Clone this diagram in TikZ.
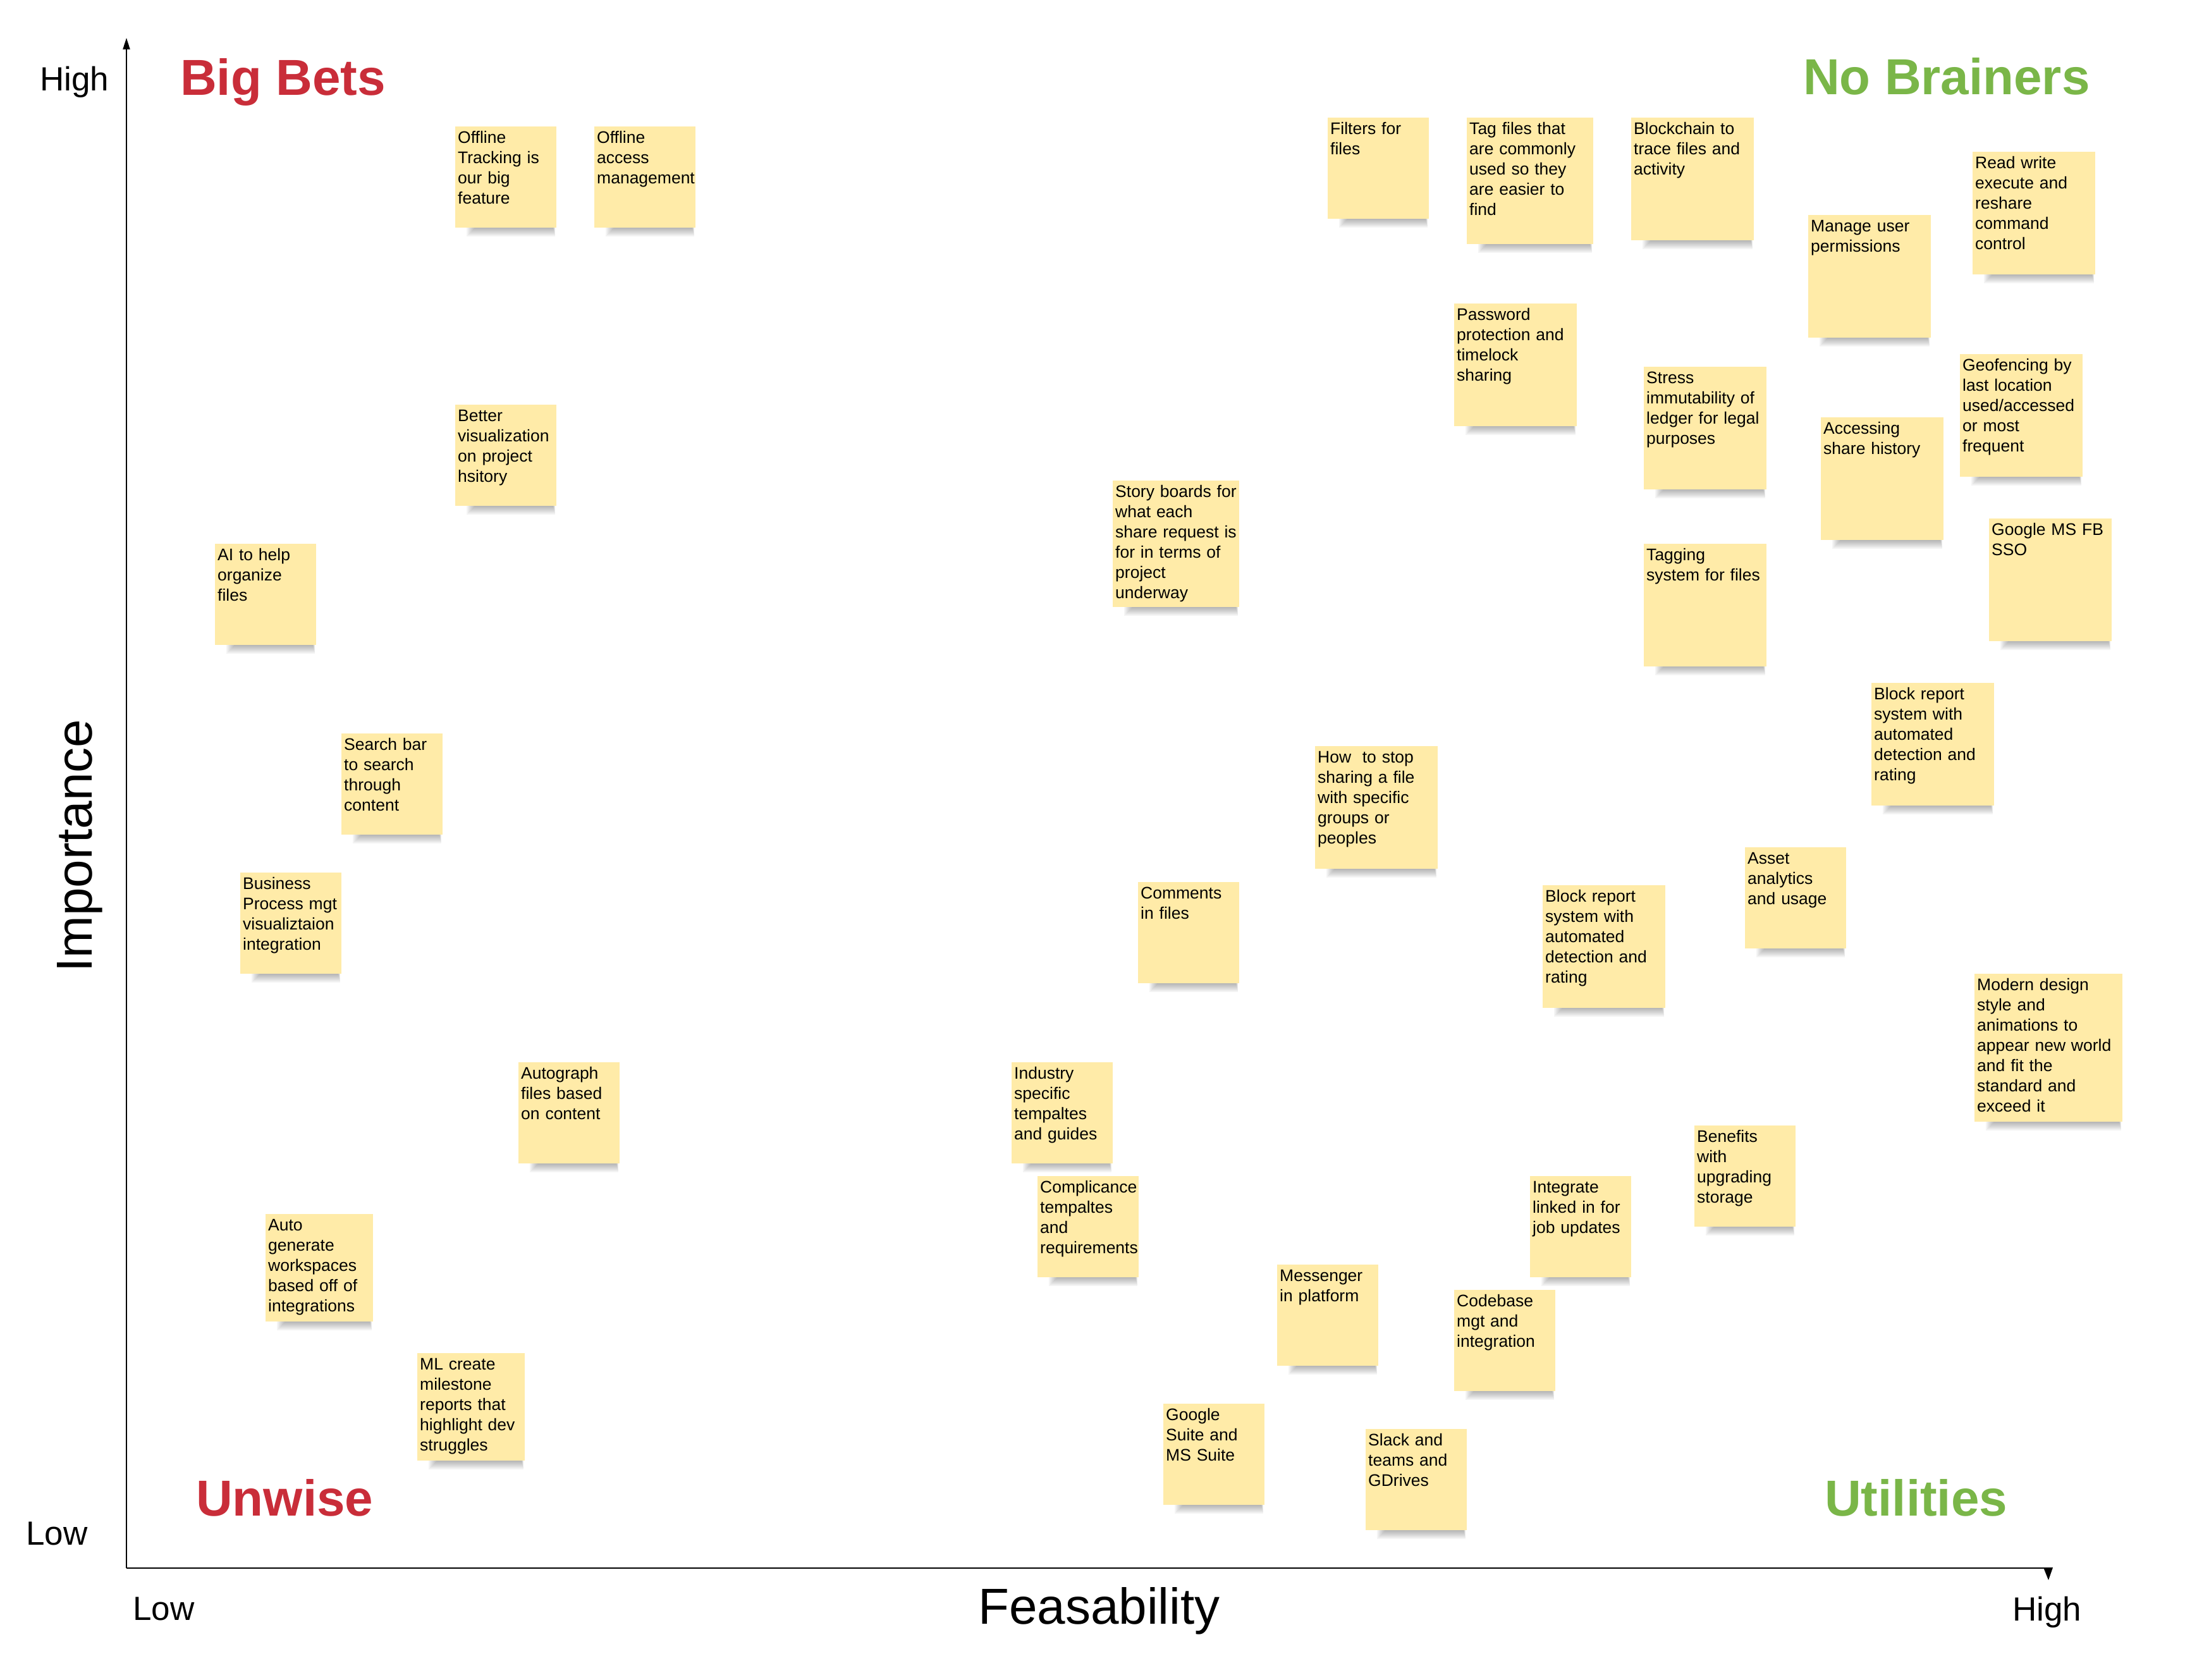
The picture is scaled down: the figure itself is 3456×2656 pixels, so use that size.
\documentclass[tikz,border=0pt]{standalone}
\usepackage{fontspec}
\setmainfont{Liberation Sans}
\usetikzlibrary{arrows.meta}
\definecolor{notefill}{HTML}{FFEBA8}
\definecolor{qred}{HTML}{C92D39}
\definecolor{qgreen}{HTML}{7AB648}
\tikzset{
  notebox/.style={fill=notefill, draw=none, inner sep=0pt},
  notetext/.style={inner sep=0pt, text width=400pt, align=left, font=\fontsize{26.5}{32}\selectfont},
  quad/.style={inner sep=0pt, font=\fontsize{80}{92}\selectfont\bfseries},
  axlabel/.style={inner sep=0pt, font=\fontsize{80}{92}\selectfont},
  lvl/.style={inner sep=0pt, font=\fontsize{53}{62}\selectfont},
  axisline/.style={line width=2pt, black}
}
\newcommand\stickynote[7][]{%
  \foreach \i in {0,...,7}{\fill[black,opacity=0.045] ({#3+18+2*\i},{#4+#6-4}) rectangle ({#3+#5-2-0.5*\i},{#4+#6+14-2*\i});}
  \node[notebox, minimum width=#5, minimum height=#6, anchor=north west] (#2) at (#3,#4) {};
  \node[notetext, anchor=base west, #1] (#2-t) at ({#3+4},{#4+26}) {#7};
}
\begin{document}
\begin{tikzpicture}[x=1pt,y=-1pt]
\fill[white] (0,0) rectangle (3456,2656);
\useasboundingbox (0,0) rectangle (3456,2656);

% axes
\coordinate (origin) at (200,2480);
\coordinate (ytop) at (200,60);
\coordinate (xend) at (3243,2480);
\draw[axisline, -{Triangle[length=18pt,width=11pt]}] (origin) -- (ytop);
\draw[axisline] (origin) -- (xend);
\fill (3232,2479) -- (3247,2479) -- (3240,2499) -- cycle;

% axis labels
\node[lvl, anchor=base west] (hiy) at (63,143) {High};
\node[lvl, anchor=base west] (loy) at (41,2443) {Low};
\node[lvl, anchor=base west] (lox) at (210,2562) {Low};
\node[lvl, anchor=base west] (hix) at (3183,2563) {High};
\node[axlabel, anchor=base west] (feas) at (1547,2568) {Feasability};
\node[axlabel, anchor=base west, rotate=90] (imp) at (145,1538) {Importance};

% quadrant titles
\node[quad, text=qred, anchor=base west] (bigbets) at (285,150) {Big Bets};
\node[quad, text=qgreen, anchor=base west] (nobrain) at (2852,149) {No Brainers};
\node[quad, text=qred, anchor=base west] (unwise) at (310,2397) {Unwise};
\node[quad, text=qgreen, anchor=base west] (util) at (2886,2397) {Utilities};

% sticky notes
\stickynote{n1}{720}{200}{160}{160}{Offline\\Tracking is\\our big\\feature}
\stickynote{n2}{940}{200}{160}{160}{Offline\\access\\management}
\stickynote{n3}{720}{640}{160}{160}{Better\\visualization\\on project\\hsitory}
\stickynote{n4}{340}{860}{160}{160}{AI to help\\organize\\files}
\stickynote{n5}{540}{1160}{160}{160}{Search bar\\to search\\through\\content}
\stickynote{n6}{380}{1380}{160}{160}{Business\\Process mgt\\visualiztaion\\integration}
\stickynote{n7}{820}{1680}{160}{160}{Autograph\\files based\\on content}
\stickynote{n8}{420}{1920}{170}{170}{Auto\\generate\\workspaces\\based off of\\integrations}
\stickynote{n9}{660}{2140}{170}{170}{ML create\\milestone\\reports that\\highlight dev\\struggles}
\stickynote{n10}{1760}{760}{200}{200}{Story boards for\\what each\\share request is\\for in terms of\\project\\underway}
\stickynote{n11}{2100}{186}{160}{160}{Filters for\\files}
\stickynote{n12}{2320}{186}{200}{200}{Tag files that\\are commonly\\used so they\\are easier to\\find}
\stickynote{n13}{2580}{186}{194}{194}{Blockchain to\\trace files and\\activity}
\stickynote{n14}{2860}{340}{194}{194}{Manage user\\permissions}
\stickynote{n15}{3120}{240}{194}{194}{Read write\\execute and\\reshare\\command\\control}
\stickynote{n16}{2300}{480}{194}{194}{Password\\protection and\\timelock\\sharing}
\stickynote{n17}{2600}{580}{194}{194}{Stress\\immutability of\\ledger for legal\\purposes}
\stickynote{n18}{2880}{660}{194}{194}{Accessing\\share history}
\stickynote{n19}{3100}{560}{194}{194}{Geofencing by\\last location\\used/accessed\\or most\\frequent}
\stickynote{n20}{3146}{820}{194}{194}{Google MS FB\\SSO}
\stickynote{n21}{2600}{860}{194}{194}{Tagging\\system for files}
\stickynote{n22}{2960}{1080}{194}{194}{Block report\\system with\\automated\\detection and\\rating}
\stickynote{n23}{2080}{1180}{194}{194}{How\ \ to stop\\sharing a file\\with specific\\groups or\\peoples}
\stickynote{n24}{2760}{1340}{160}{160}{Asset\\analytics\\and usage}
\stickynote{n25}{1800}{1395}{160}{160}{Comments\\in files}
\stickynote{n26}{2440}{1400}{194}{194}{Block report\\system with\\automated\\detection and\\rating}
\stickynote{n27}{3123}{1540}{234}{234}{Modern design\\style and\\animations to\\appear new world\\and fit the\\standard and\\exceed it}
\stickynote{n28}{1600}{1680}{160}{160}{Industry\\specific\\tempaltes\\and guides}
\stickynote{n29}{1641}{1860}{160}{160}{Complicance\\tempaltes\\and\\requirements}
\stickynote{n30}{2680}{1780}{160}{160}{Benefits\\with\\upgrading\\storage}
\stickynote{n31}{2420}{1860}{160}{160}{Integrate\\linked in for\\job updates}
\stickynote{n32}{2020}{2000}{160}{160}{Messenger\\in platform}
\stickynote{n33}{2300}{2040}{160}{160}{Codebase\\mgt and\\integration}
\stickynote{n34}{1840}{2220}{160}{160}{Google\\Suite and\\MS Suite}
\stickynote{n35}{2160}{2260}{160}{160}{Slack and\\teams and\\GDrives}
\end{tikzpicture}
\end{document}
